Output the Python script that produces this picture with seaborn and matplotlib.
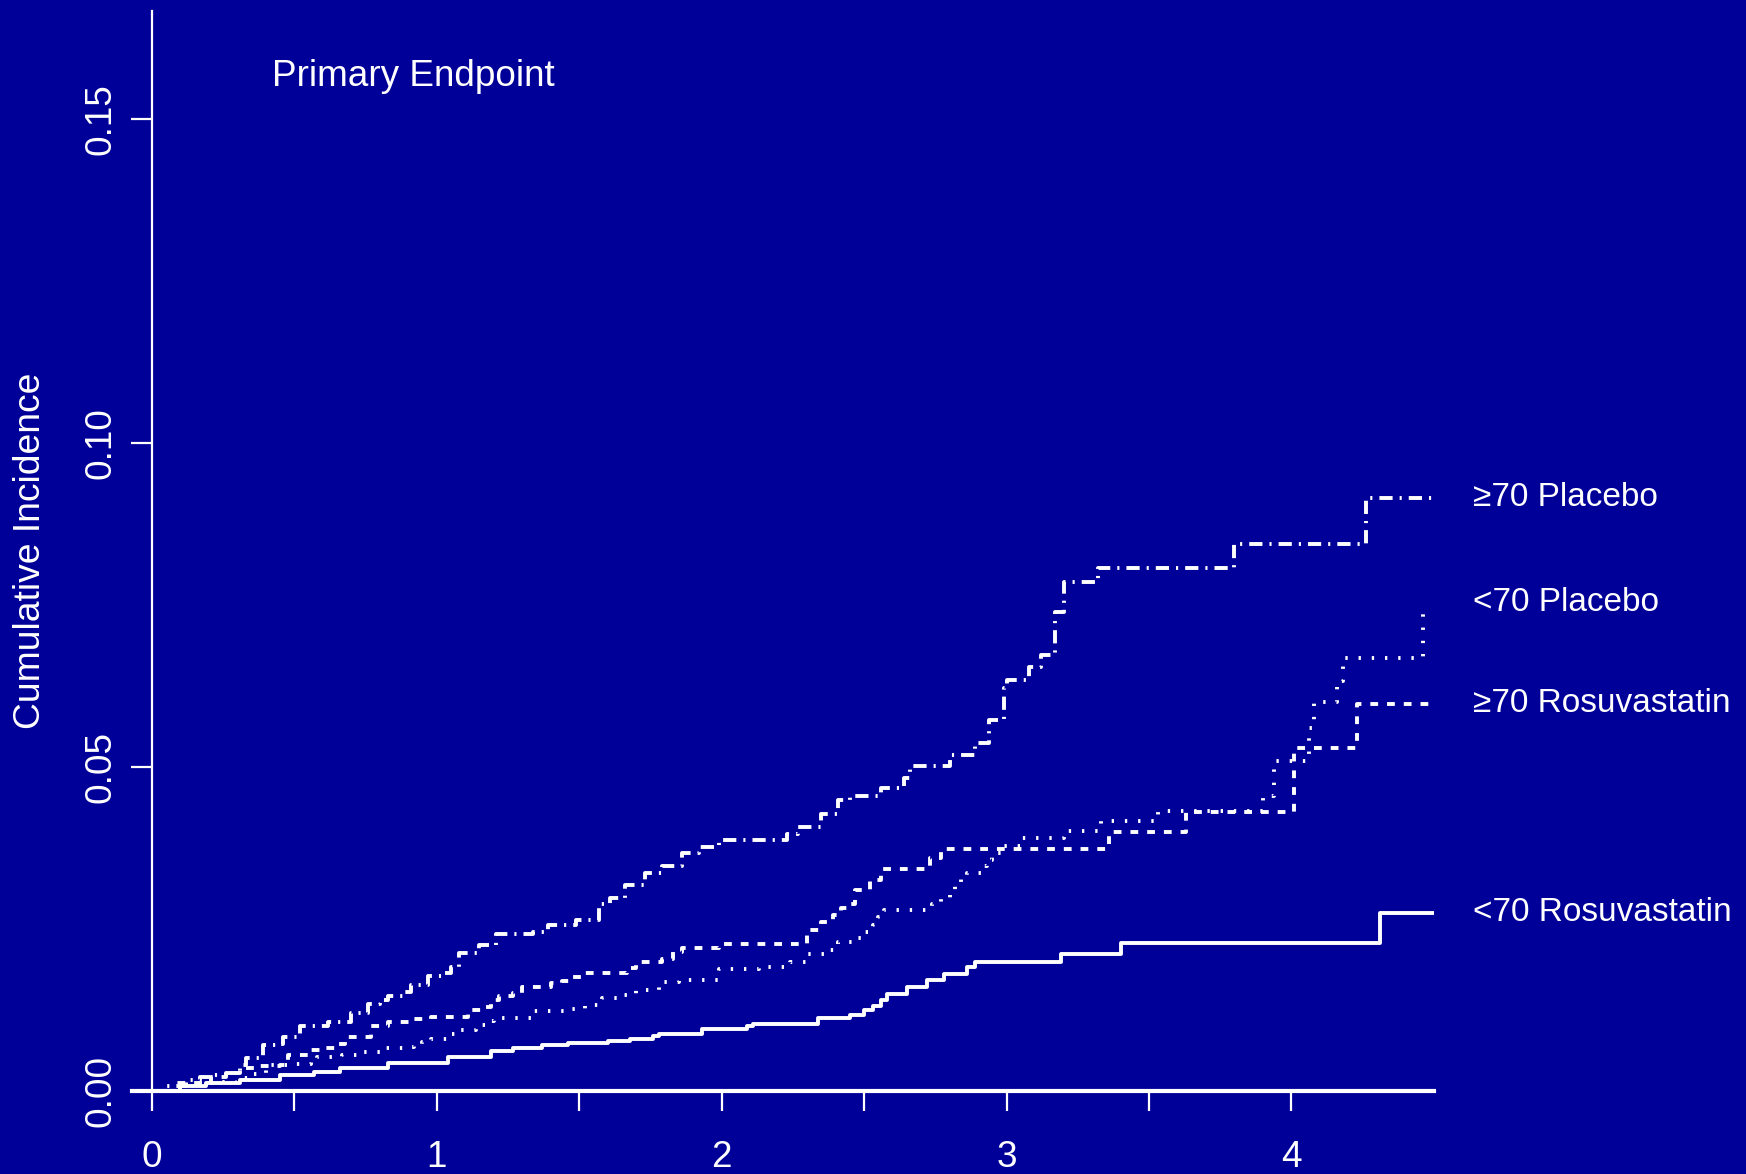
import numpy as np
import pandas as pd
import matplotlib
matplotlib.use("Agg")
import matplotlib.pyplot as plt
import seaborn as sns

# ==========================================
# Data (years, cumulative incidence)
# ==========================================
groups = [">=70 Placebo", "<70 Placebo", ">=70 Rosuvastatin", "<70 Rosuvastatin"]
labels = ["\u226570 Placebo", "<70 Placebo", "\u226570 Rosuvastatin", "<70 Rosuvastatin"]

plac_ge70_t = [0, 0.05, 0.12, 0.17, 0.21, 0.26, 0.31, 0.33, 0.39, 0.44, 0.46, 0.52, 0.62,
               0.70, 0.76, 0.80, 0.83, 0.89, 0.91, 0.97, 1.02, 1.05, 1.08, 1.15, 1.21, 1.34,
               1.39, 1.49, 1.57, 1.61, 1.66, 1.73, 1.79, 1.86, 1.92, 1.99, 2.23, 2.27, 2.35,
               2.41, 2.45, 2.56, 2.64, 2.66, 2.80, 2.89, 2.94, 2.99, 3.00, 3.08, 3.12, 3.17,
               3.20, 3.32, 3.80, 4.26, 4.50]
plac_ge70_y = [0, 0.0008, 0.0017, 0.0022, 0.0024, 0.0028, 0.0040, 0.0051, 0.0071, 0.0073,
               0.0084, 0.0100, 0.0107, 0.0120, 0.0135, 0.0140, 0.0146, 0.0153, 0.0163, 0.0177,
               0.0182, 0.0191, 0.0213, 0.0225, 0.0242, 0.0246, 0.0256, 0.0264, 0.0288, 0.0298,
               0.0318, 0.0336, 0.0348, 0.0367, 0.0377, 0.0387, 0.0397, 0.0408, 0.0428, 0.0449,
               0.0455, 0.0468, 0.0483, 0.0501, 0.0519, 0.0537, 0.0573, 0.0622, 0.0634, 0.0655,
               0.0673, 0.0739, 0.0785, 0.0808, 0.0845, 0.0916, 0.0916]

plac_lt70_t = [0, 0.10, 0.20, 0.30, 0.35, 0.40, 0.50, 0.56, 0.58, 0.67, 0.73, 0.81, 0.89,
               0.92, 0.95, 0.98, 1.04, 1.07, 1.14, 1.17, 1.20, 1.22, 1.33, 1.45, 1.52, 1.58,
               1.65, 1.70, 1.78, 1.85, 1.99, 2.13, 2.24, 2.30, 2.36, 2.41, 2.48, 2.50, 2.53,
               2.55, 2.57, 2.74, 2.77, 2.80, 2.82, 2.84, 2.86, 2.91, 2.93, 2.95, 2.98, 3.05,
               3.20, 3.33, 3.53, 3.90, 3.94, 4.06, 4.08, 4.16, 4.18, 4.46]
plac_lt70_y = [0, 0.0009, 0.0014, 0.0020, 0.0027, 0.0040, 0.0042, 0.0047, 0.0053, 0.0055,
               0.0060, 0.0066, 0.0068, 0.0071, 0.0075, 0.0080, 0.0088, 0.0094, 0.0102, 0.0108,
               0.0110, 0.0113, 0.0123, 0.0127, 0.0133, 0.0144, 0.0148, 0.0156, 0.0169, 0.0171,
               0.0188, 0.0192, 0.0199, 0.0211, 0.0217, 0.0230, 0.0236, 0.0245, 0.0256, 0.0268,
               0.0279, 0.0289, 0.0298, 0.0308, 0.0316, 0.0328, 0.0337, 0.0348, 0.0357, 0.0368,
               0.0378, 0.0391, 0.0402, 0.0417, 0.0432, 0.0456, 0.0509, 0.0560, 0.0600, 0.0633,
               0.0669, 0.0749]

rosu_ge70_t = [0, 0.09, 0.21, 0.26, 0.31, 0.37, 0.45, 0.48, 0.56, 0.60, 0.65, 0.68, 0.77,
               0.83, 0.92, 0.98, 1.11, 1.16, 1.19, 1.22, 1.27, 1.30, 1.40, 1.44, 1.48, 1.52,
               1.67, 1.70, 1.79, 1.83, 1.86, 1.99, 2.30, 2.35, 2.39, 2.42, 2.45, 2.47, 2.52,
               2.56, 2.73, 2.77, 3.36, 3.63, 4.01, 4.23, 4.50]
rosu_ge70_y = [0, 0.0012, 0.0022, 0.0028, 0.0035, 0.0038, 0.0040, 0.0056, 0.0063, 0.0066,
               0.0073, 0.0083, 0.0101, 0.0107, 0.0111, 0.0114, 0.0125, 0.0130, 0.0140, 0.0146,
               0.0151, 0.0161, 0.0166, 0.0170, 0.0176, 0.0182, 0.0190, 0.0199, 0.0203, 0.0215,
               0.0221, 0.0227, 0.0248, 0.0261, 0.0271, 0.0283, 0.0288, 0.0310, 0.0326, 0.0342,
               0.0359, 0.0374, 0.0400, 0.0431, 0.0529, 0.0598, 0.0598]

rosu_lt70_t = [0, 0.10, 0.19, 0.31, 0.45, 0.57, 0.66, 0.83, 1.04, 1.19, 1.27, 1.37, 1.46,
               1.60, 1.68, 1.76, 1.78, 1.93, 2.09, 2.11, 2.34, 2.45, 2.50, 2.53, 2.56, 2.58,
               2.65, 2.72, 2.78, 2.86, 2.89, 3.19, 3.40, 4.31, 4.50]
rosu_lt70_y = [0, 0.0008, 0.0013, 0.0017, 0.0024, 0.0030, 0.0035, 0.0043, 0.0053, 0.0062,
               0.0066, 0.0071, 0.0074, 0.0077, 0.0080, 0.0085, 0.0088, 0.0095, 0.0100, 0.0104,
               0.0112, 0.0118, 0.0125, 0.0131, 0.0140, 0.0149, 0.0161, 0.0171, 0.0180, 0.0192,
               0.0199, 0.0212, 0.0228, 0.0275, 0.0275]

x_ticks = [0, 1, 2, 3, 4]
y_ticks = [0.00, 0.05, 0.10, 0.15]
y_ticklabels = ["0.00", "0.05", "0.10", "0.15"]

series = {
    groups[0]: (plac_ge70_t, plac_ge70_y),
    groups[1]: (plac_lt70_t, plac_lt70_y),
    groups[2]: (rosu_ge70_t, rosu_ge70_y),
    groups[3]: (rosu_lt70_t, rosu_lt70_y),
}
df = pd.concat(
    [pd.DataFrame({"time": t, "inc": y, "group": g}) for g, (t, y) in series.items()],
    ignore_index=True,
)

# line styles (in units of line width)
dash_map = {
    groups[0]: (3.4, 1.8, 0.55, 1.8),
    groups[1]: (0.6, 2.8),
    groups[2]: (2.0, 2.3),
    groups[3]: "",
}

# ==========================================
# Plot
# ==========================================
bg = "#000099"
sns.set_style("white", {"axes.facecolor": bg, "figure.facecolor": bg})
plt.rcParams["font.family"] = ["Liberation Sans", "DejaVu Sans"]
plt.rcParams["text.color"] = "white"

fig = plt.figure(figsize=(17.46, 11.74), dpi=100)
fig.patch.set_facecolor(bg)
ax = fig.add_axes([0.0868, 0.0707, 0.7345, 0.9199])
ax.set_facecolor(bg)

sns.lineplot(data=df, x="time", y="inc", style="group", style_order=groups,
             dashes=dash_map, color="white", linewidth=2.8, estimator=None,
             sort=False, drawstyle="steps-post", legend=False, ax=ax)

ax.set_xlim(0, 4.5)
ax.set_ylim(0, 0.1667)
ax.set_xticks(x_ticks)
ax.set_xticklabels([str(v) for v in x_ticks])
ax.set_xticks(np.arange(0.5, 4.0, 1.0), minor=True)
ax.set_yticks(y_ticks)
ax.set_yticklabels(y_ticklabels, rotation=90, va="center")

ax.tick_params(axis="both", which="both", direction="out", color="white",
               labelcolor="white", width=1.6, labelsize=26.6)
ax.tick_params(axis="x", which="both", length=14.5, pad=21, bottom=True)
ax.tick_params(axis="y", which="both", length=15, pad=8.5, left=True)

for s in ["top", "right"]:
    ax.spines[s].set_visible(False)
ax.spines["left"].set_color("white")
ax.spines["left"].set_linewidth(1.6)
ax.spines["bottom"].set_color("white")
ax.spines["bottom"].set_linewidth(3)
ax.spines["bottom"].set_bounds(-0.07, 4.5)

ax.set_xlabel("")
ax.set_ylabel("")
fig.text(31 / 1746, 1 - 551 / 1174, "Cumulative Incidence", rotation=90,
         ha="center", va="center", fontsize=26.8, color="white")

ax.text(0.423, 0.1566, "Primary Endpoint", fontsize=26.6, color="white",
        ha="left", va="center")

label_y = [plac_ge70_y[-1], plac_lt70_y[-1] + 0.0005, rosu_ge70_y[-1], rosu_lt70_y[-1]]
for lab, yy in zip(labels, label_y):
    ax.text(4.637, yy, lab, fontsize=24, color="white", ha="left", va="center",
            clip_on=False)

fig.savefig("out.png", dpi=100, facecolor=bg)
